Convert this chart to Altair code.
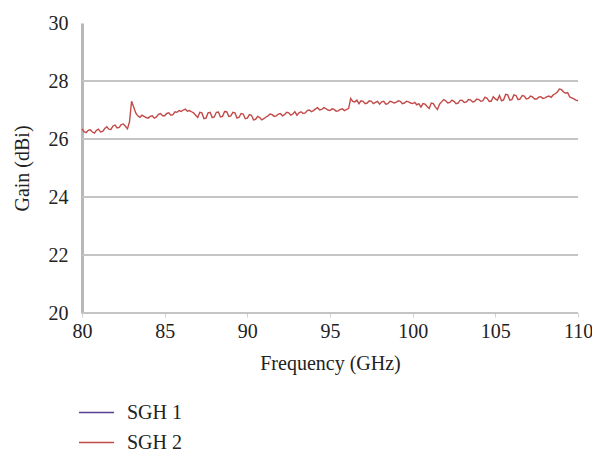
import altair as alt
import pandas as pd

freq = [
    80.000, 80.125, 80.250, 80.375, 80.500, 80.625, 80.750, 80.875,
    81.000, 81.125, 81.250, 81.375, 81.500, 81.625, 81.750, 81.875,
    82.000, 82.125, 82.250, 82.375, 82.500, 82.625, 82.750, 82.875,
    83.000, 83.125, 83.250, 83.375, 83.500, 83.625, 83.750, 83.875,
    84.000, 84.125, 84.250, 84.375, 84.500, 84.625, 84.750, 84.875,
    85.000, 85.125, 85.250, 85.375, 85.500, 85.625, 85.750, 85.875,
    86.000, 86.125, 86.250, 86.375, 86.500, 86.625, 86.750, 86.875,
    87.000, 87.125, 87.250, 87.375, 87.500, 87.625, 87.750, 87.875,
    88.000, 88.125, 88.250, 88.375, 88.500, 88.625, 88.750, 88.875,
    89.000, 89.125, 89.250, 89.375, 89.500, 89.625, 89.750, 89.875,
    90.000, 90.125, 90.250, 90.375, 90.500, 90.625, 90.750, 90.875,
    91.000, 91.125, 91.250, 91.375, 91.500, 91.625, 91.750, 91.875,
    92.000, 92.125, 92.250, 92.375, 92.500, 92.625, 92.750, 92.875,
    93.000, 93.125, 93.250, 93.375, 93.500, 93.625, 93.750, 93.875,
    94.000, 94.125, 94.250, 94.375, 94.500, 94.625, 94.750, 94.875,
    95.000, 95.125, 95.250, 95.375, 95.500, 95.625, 95.750, 95.875,
    96.000, 96.125, 96.250, 96.375, 96.500, 96.625, 96.750, 96.875,
    97.000, 97.125, 97.250, 97.375, 97.500, 97.625, 97.750, 97.875,
    98.000, 98.125, 98.250, 98.375, 98.500, 98.625, 98.750, 98.875,
    99.000, 99.125, 99.250, 99.375, 99.500, 99.625, 99.750, 99.875,
    100.000, 100.125, 100.250, 100.375, 100.500, 100.625, 100.750, 100.875,
    101.000, 101.125, 101.250, 101.375, 101.500, 101.625, 101.750, 101.875,
    102.000, 102.125, 102.250, 102.375, 102.500, 102.625, 102.750, 102.875,
    103.000, 103.125, 103.250, 103.375, 103.500, 103.625, 103.750, 103.875,
    104.000, 104.125, 104.250, 104.375, 104.500, 104.625, 104.750, 104.875,
    105.000, 105.125, 105.250, 105.375, 105.500, 105.625, 105.750, 105.875,
    106.000, 106.125, 106.250, 106.375, 106.500, 106.625, 106.750, 106.875,
    107.000, 107.125, 107.250, 107.375, 107.500, 107.625, 107.750, 107.875,
    108.000, 108.125, 108.250, 108.375, 108.500, 108.625, 108.750, 108.875,
    109.000, 109.125, 109.250, 109.375, 109.500, 109.625, 109.750, 109.875,
    110.000,
]

sgh2_gain = [
    26.35, 26.25, 26.22, 26.30, 26.32, 26.24, 26.20, 26.30,
    26.34, 26.24, 26.26, 26.36, 26.42, 26.34, 26.33, 26.45,
    26.48, 26.38, 26.40, 26.50, 26.52, 26.44, 26.35, 26.60,
    27.30, 27.10, 26.90, 26.80, 26.75, 26.82, 26.78, 26.74,
    26.72, 26.78, 26.80, 26.72, 26.76, 26.85, 26.88, 26.80,
    26.80, 26.88, 26.90, 26.82, 26.84, 26.94, 26.92, 26.98,
    26.95, 27.00, 27.03, 26.96, 26.98, 26.94, 26.90, 26.82,
    26.74, 26.92, 26.90, 26.70, 26.72, 26.90, 26.92, 26.74,
    26.76, 26.92, 26.93, 26.76, 26.78, 26.95, 26.94, 26.78,
    26.80, 26.92, 26.90, 26.72, 26.75, 26.88, 26.86, 26.70,
    26.72, 26.84, 26.82, 26.66, 26.68, 26.78, 26.74, 26.66,
    26.70, 26.76, 26.80, 26.86, 26.84, 26.78, 26.80, 26.86,
    26.88, 26.80, 26.84, 26.92, 26.90, 26.82, 26.86, 26.94,
    26.82, 26.90, 26.94, 26.88, 26.90, 26.98, 27.00, 26.94,
    26.98, 27.04, 27.08, 27.00, 27.02, 27.08, 27.05, 27.00,
    26.98, 27.04, 27.02, 26.96, 26.97, 27.02, 27.04, 26.98,
    27.02, 27.05, 27.40, 27.30, 27.28, 27.34, 27.22, 27.32,
    27.30, 27.22, 27.24, 27.32, 27.30, 27.22, 27.26, 27.30,
    27.20, 27.28, 27.30, 27.20, 27.22, 27.30, 27.28, 27.24,
    27.26, 27.32, 27.30, 27.22, 27.24, 27.30, 27.28, 27.24,
    27.22, 27.26, 27.18, 27.22, 27.10, 27.22, 27.20, 27.12,
    27.05, 27.24, 27.22, 27.10, 27.02, 27.20, 27.28, 27.36,
    27.32, 27.24, 27.26, 27.34, 27.30, 27.22, 27.24, 27.34,
    27.33, 27.26, 27.28, 27.36, 27.35, 27.28, 27.30, 27.38,
    27.36, 27.30, 27.32, 27.44, 27.40, 27.30, 27.30, 27.46,
    27.38, 27.34, 27.50, 27.32, 27.35, 27.54, 27.52, 27.34,
    27.36, 27.52, 27.50, 27.36, 27.38, 27.50, 27.48, 27.38,
    27.40, 27.48, 27.45, 27.38, 27.38, 27.44, 27.46, 27.40,
    27.42, 27.46, 27.48, 27.44, 27.52, 27.56, 27.62, 27.72,
    27.70, 27.62, 27.58, 27.60, 27.45, 27.42, 27.38, 27.34,
    27.32,
]

series_names = ["SGH 1", "SGH 2"]
series_colors = ["#5a3e92", "#c24a48"]
grid_values = [20, 22, 24, 26, 28]
x_ticks = [80, 85, 90, 95, 100, 105, 110]
y_ticks = [20, 22, 24, 26, 28, 30]

df = pd.DataFrame({"freq": freq, "gain": sgh2_gain, "series": "SGH 2"})
grid_df = pd.DataFrame({"g": grid_values})

FONT = "'Liberation Serif', 'Times New Roman', serif"

xscale = alt.Scale(domain=[80, 110], nice=False)
yscale = alt.Scale(domain=[20, 30], nice=False)

y_axis = alt.Axis(
    values=y_ticks,
    title="Gain (dBi)",
    grid=False,
    domainColor="#b8b8b8",
    domainWidth=3,
    ticks=False,
    labelPadding=14,
    titlePadding=16,
    labelFlush=False,
)

grid = alt.Chart(grid_df).mark_rule(color="#c4c4c4", strokeWidth=2).encode(
    y=alt.Y("g:Q", scale=yscale, axis=y_axis),
)

line = alt.Chart(df).mark_line(strokeWidth=1.4, interpolate="linear").encode(
    x=alt.X(
        "freq:Q",
        scale=xscale,
        axis=alt.Axis(
            values=x_ticks,
            title="Frequency (GHz)",
            grid=False,
            domain=False,
            tickColor="#d0d0d0",
            tickSize=4,
            labelPadding=4,
            titlePadding=12,
            labelFlush=False,
            labelOverlap=False,
        ),
    ),
    y=alt.Y("gain:Q", scale=yscale, axis=y_axis),
    color=alt.Color(
        "series:N",
        scale=alt.Scale(domain=series_names, range=series_colors),
        legend=alt.Legend(
            title=None,
            orient="none",
            legendX=-4,
            legendY=380,
            symbolType="stroke",
            symbolSize=1225,
            symbolStrokeWidth=1.5,
            clipHeight=19,
            rowPadding=9,
            labelOffset=12,
            labelFontSize=20,
            labelFont=FONT,
            labelColor="#222222",
        ),
    ),
)

chart = (
    alt.layer(grid, line)
    .properties(
        width=496,
        height=290,
        autosize=alt.AutoSizeParams(type="none"),
        padding={"left": 82, "top": 23, "right": 14, "bottom": 138},
        background="white",
    )
    .configure_view(stroke=None)
    .configure_axis(
        labelFont=FONT,
        titleFont=FONT,
        labelFontSize=20,
        titleFontSize=20,
        labelColor="#222222",
        titleColor="#222222",
        titleFontWeight="normal",
    )
)

chart.save("out.html", embed_options={"renderer": "svg", "actions": False})
